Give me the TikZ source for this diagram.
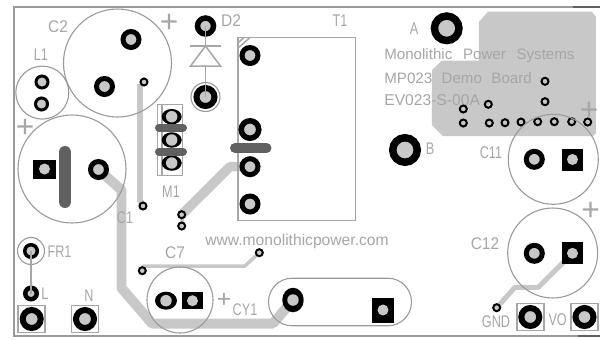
\documentclass[tikz,border=0pt]{standalone}
\usepackage{fontspec}
\setmainfont{Liberation Sans}
\newfontfamily\silkfont[FakeStretch=0.75]{Liberation Sans}
\newfontfamily\silkwide[FakeStretch=0.92]{Liberation Sans}
\usetikzlibrary{shapes.geometric,backgrounds}

\definecolor{padgray}{HTML}{C8C8C8}
\definecolor{silk}{HTML}{A6A6A6}
\definecolor{silkdark}{HTML}{9A9A9A}
\definecolor{bargray}{HTML}{606060}

\tikzset{
	outline/.style={circle, draw=silkdark, line width=0.022cm, inner sep=0},
	silkbox/.style={rectangle, draw=silk, line width=0.03cm, inner sep=0},
	via/.style={circle, draw=black, fill=padgray, line width=0.04cm, minimum size=0.14cm, inner sep=0},
	padM/.style={circle, draw=black, fill=padgray, line width=0.1cm, minimum size=0.32cm, inner sep=0},
	padL/.style={circle, draw=black, fill=padgray, line width=0.12cm, minimum size=0.36cm, inner sep=0},
	padXL/.style={circle, draw=black, fill=padgray, line width=0.15cm, minimum size=0.49cm, inner sep=0},
	sqpad/.style={rectangle, fill=black, minimum size=0.44cm, inner sep=0, path picture={\fill[padgray] (path picture bounding box.center) circle (0.11cm);}},
	ovalpad/.style={ellipse, fill=black, inner sep=0, path picture={\fill[padgray] (path picture bounding box.center) circle (0.115cm);}},
	lbl/.style={text=silk, inner sep=0, font=\silkfont\fontsize{9.6}{10}\selectfont},
	lblwide/.style={text=silk, inner sep=0, font=\silkwide\fontsize{9.6}{10}\selectfont},
	brdtext/.style={text=silk, inner sep=0, font=\fontsize{8.9}{10}\selectfont},
	plusmark/.style={text=silk, inner sep=0, font=\fontsize{18}{20}\selectfont},
	trace/.style={draw=padgray, line join=round},
	darkbar/.style={draw=bargray, line cap=round},
}

\begin{document}
\begin{tikzpicture}[x=0.02cm, y=-0.02cm]

\useasboundingbox (0,0) rectangle (600,339);

% board edge
\draw[silkdark, line width=0.04cm] (573,6.5) -- (14,6.5) -- (14,336) -- (578,336);
\draw[bargray, line width=0.04cm] (573,6.5) -- (600,6.5);
\draw[bargray, line width=0.04cm] (578,336) -- (600,336);

% copper area
\begin{pgfonlayer}{background}
\fill[padgray] (488,11.7) -- (591.7,11.7) -- (596,16.7) -- (596,133) -- (593,136) -- (443,136) -- (432,125) -- (432,70) -- (441.7,60.7) -- (479,60.7) -- (479,21.7) -- cycle;
\end{pgfonlayer}

% C2, L1
\node (C2) at (117.5,63) [outline, minimum size=2.16cm] {};
\node (c2a) at (131,39.5) [padM] {};
\node (c2b) at (104.5,86.5) [padM] {};
\node (c2lbl) at (58,27) [lblwide] {C2};
\node (c2plus) at (169,23) [plusmark] {+};
\node (L1) at (42.3,92.6) [outline, minimum size=1.06cm] {};
\node (l1a) at (42,82) [via, line width=0.06cm, minimum size=0.24cm] {};
\node (l1b) at (41.5,104) [via, line width=0.06cm, minimum size=0.24cm] {};
\node (l1lbl) at (41,55) [lbl] {L1};

% C1
\node (C1) at (72,169) [outline, minimum size=2.16cm] {};
\node (c1sq) at (44.5,169) [sqpad, minimum width=0.46cm, minimum height=0.38cm] {};
\node (c1a) at (98.5,169.5) [padM] {};
\node (c1lbl) at (125,218) [lbl] {C1};
\node (c1plus) at (25,128) [plusmark] {+};
\draw[darkbar, line width=0.26cm] (65,152.5) -- (65,201.5);

% FR1, L, N
\node (FR1) at (31,251) [outline, minimum size=0.54cm] {};
\node (fr1a) at (31,251) [via, line width=0.07cm, minimum size=0.25cm] {};
\node (fr1lbl) at (59.5,252) [lbl] {FR1};
\node (la) at (31,293.5) [via, line width=0.09cm, minimum size=0.23cm] {};
\node (llbl) at (45,294) [lbl] {L};
\node (nlbl) at (89,296) [lbl] {N};
\node (lbox) at (31.7,319) [silkbox, minimum size=0.54cm] {};
\node (lpad) at (31.7,319) [padL] {};
\node (nbox) at (85,319) [silkbox, minimum size=0.54cm] {};
\node (npad) at (85,319) [padL] {};
\draw[silk, line width=0.03cm] (fr1a.center) -- (la.center);

% M1
\node (M1) at (170.2,140) [silkbox, minimum width=0.5cm, minimum height=1.43cm] {};
\draw[silk, line width=0.03cm] (162,104) -- (162,175.7);
\node (m1a) at (171.7,116.7) [ovalpad, minimum width=0.4cm, minimum height=0.31cm] {};
\node (m1b) at (171.7,140) [ovalpad, minimum width=0.4cm, minimum height=0.31cm] {};
\node (m1c) at (171.7,163) [ovalpad, minimum width=0.4cm, minimum height=0.31cm] {};
\foreach \y in {127.7,151.7}
	\draw[darkbar, line width=0.16cm] (159,\y) -- (183,\y);
\node (m1lbl) at (171,192) [lbl] {M1};

% D2
\node (d2a) at (205.5,26) [padM, line width=0.11cm] {};
\node (d2b) at (205.5,97) [padL] {};
\node (d2ring) at (205.5,97) [outline, minimum size=0.58cm] {};
\node (d2lbl) at (231,21) [lblwide] {D2};
\coordinate (d2top) at (205.5,46);
\coordinate (d2bot) at (205.5,66);
\draw[silk, line width=0.03cm] (d2a.center) -- (d2top);
\draw[silk, line width=0.03cm] (d2bot) -- (d2b.center);
\draw[silk, line width=0.03cm] (190,46) -- (221,46);
\draw[silk, line width=0.03cm] (d2top) -- (220.5,66) -- (190.5,66) -- cycle;

% T1
\node (T1) at (296.8,129) [silkbox, minimum width=2.35cm, minimum height=3.67cm] {};
\draw[silk, line width=0.03cm] (238,43) -- (244,37.5);
\draw[silk, line width=0.03cm] (238,48) -- (250,37.5);
\node (t1a) at (250,55.5) [padM] {};
\node (t1b) at (250,129.5) [padM, line width=0.11cm, minimum size=0.35cm] {};
\node (t1c) at (250,166.7) [padM] {};
\node (t1d) at (250,204) [padM] {};
\node (t1lbl) at (340,21) [lbl] {T1};
\draw[darkbar, line width=0.2cm] (235,148) -- (266.5,148);

% vias with the copper running to them
\node (v1) at (144,82) [via] {};
\node (v2) at (143,206) [via] {};
\node (v3) at (181.7,214.7) [via] {};
\node (v4) at (181.7,226) [via] {};
\node (v5) at (142.3,270.7) [via] {};
\node (v6) at (259.3,252.7) [via] {};
\node (c7lbl) at (175,253) [lblwide] {C7};

% CY1 parts
\node (CY) at (180,300) [outline, minimum size=1.32cm] {};
\node (cya) at (166,300.7) [ovalpad, minimum width=0.44cm, minimum height=0.36cm] {};
\node (cysq) at (192.5,300.7) [sqpad, minimum height=0.34cm] {};
\node (cyplus) at (224,300.5) [plusmark, font=\fontsize{14}{15}\selectfont] {+};
\node (cylbl) at (245,310) [lbl] {CY1};
\node (Oval) at (340,302) [rectangle, rounded corners=0.47cm, draw=silkdark, line width=0.022cm, minimum width=2.86cm, minimum height=0.95cm] {};
\node (ovala) at (293,300) [ovalpad, minimum width=0.43cm, minimum height=0.49cm] {};
\node (ovalsq) at (383,310) [sqpad, minimum height=0.5cm] {};

\node (web) at (297,241.5) [brdtext] {www.monolithicpower.com};

% right side
\node (pA) at (446.7,28.3) [padXL] {};
\node (albl) at (414,29) [lbl] {A};
\node (pB) at (405,150) [padXL] {};
\node (blbl) at (430,149) [lbl] {B};
\node (brd1) at (384,56) [brdtext, anchor=west, font=\fontsize{8.6}{10}\selectfont] {Monolithic\hspace{3.7pt} Power\hspace{3.7pt} Systems};
\node (brd2) at (384,78) [brdtext, anchor=west, font=\fontsize{8.6}{10}\selectfont] {MP023\hspace{3pt} Demo\hspace{3pt} Board};
\node (brd3) at (384,100) [brdtext, anchor=west] {EV023-S-00A};

\foreach \n/\x/\y in {a/545/81.3, b/545/101.7, c/488.3/104.3, d/463.3/109, e/463.3/123, f/489.3/123, g/505/122.7, h/521/122, i/537.7/121.7, j/554.3/121.7, k/571.7/121.7, l/587.7/122}
	\node (pin\n) at (\x,\y) [via] {};

\node (C11) at (553.3,159.3) [outline, minimum size=1.8cm] {};
\node (c11a) at (534.3,159.3) [padM] {};
\node (c11sq) at (572.5,159.5) [sqpad] {};
\node (c11lbl) at (491,153) [lbl] {C11};
\node (c11plus) at (589,111) [plusmark] {+};

\node (C12) at (552.7,253) [outline, minimum size=1.8cm] {};
\node (c12a) at (534.3,253.3) [padM] {};
\node (c12sq) at (572.5,253.3) [sqpad] {};
\node (c12lbl) at (485,244) [lblwide] {C12};
\node (c12plus) at (590.7,211.3) [plusmark] {+};

\node (gnd) at (496.7,307.7) [via] {};
\node (gndlbl) at (496,321.7) [lbl] {GND};
\node (gndbox) at (530.3,317) [silkbox, minimum size=0.54cm] {};
\node (gndpad) at (530.3,317) [padL] {};
\node (volbl) at (557.7,320) [lbl] {VO};
\node (vobox) at (584.5,317) [silkbox, minimum size=0.54cm] {};
\node (vopad) at (584.5,317) [padL] {};

% copper traces go under everything
\begin{pgfonlayer}{background}
\draw[trace, line width=0.12cm] (140,84) -- (140,200) -- (v2.center);
\draw[trace, line width=0.2cm] (c1a.center) -- (121.5,190) -- (121.5,288) -- (152,323.5) -- (273,323.5) -- (ovala.center);
\draw[trace, line width=0.19cm] (v3.center) -- (230,166.7) -- (t1c.center);
\draw[trace, line width=0.07cm] (v5.center) -- (143,266) -- (245,266) -- (v6.center);
\draw[trace, line width=0.1cm] (c12sq.center) -- (538.3,287.3) -- (515,287.3) -- (gnd.center);
\draw[trace, line width=0.08cm] (v3.center) -- (v4.center);
\end{pgfonlayer}

\end{tikzpicture}
\end{document}
